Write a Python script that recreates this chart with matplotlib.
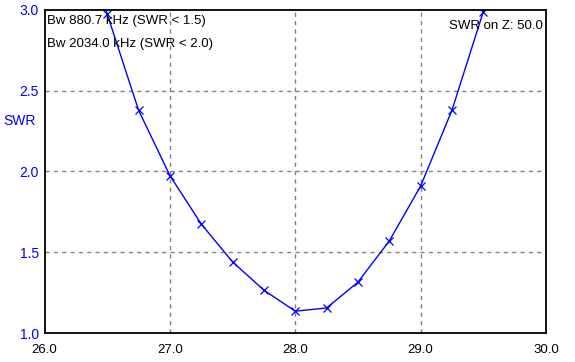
import matplotlib
matplotlib.use("Agg")
import matplotlib.pyplot as plt

# frequency (MHz) and SWR
freq = [26.25, 26.5, 26.75, 27.0, 27.25, 27.5, 27.75, 28.0, 28.25, 28.5, 28.75, 29.0, 29.25, 29.5, 29.75]
swr = [3.65, 2.975, 2.38, 1.975, 1.675, 1.44, 1.265, 1.135, 1.155, 1.315, 1.57, 1.91, 2.38, 2.99, 3.75]

xticks = [26.0, 27.0, 28.0, 29.0, 30.0]
yticks = [1.0, 1.5, 2.0, 2.5, 3.0]

plt.rcParams['font.family'] = ['Liberation Sans', 'DejaVu Sans']
plt.rcParams['font.size'] = 9.5

fig = plt.figure(figsize=(5.75, 3.62), dpi=100)
ax = fig.add_axes([0.0774, 0.0801, 0.8722, 0.8923])

ax.plot(freq, swr, color='#0000ff', lw=1.0, marker='x', ms=5.5, mew=0.9)

ax.set_xlim(26.0, 30.0)
ax.set_ylim(1.0, 3.0)
ax.set_xticks(xticks)
ax.set_yticks(yticks)
ax.set_xticklabels([f"{v:.1f}" for v in xticks])
ax.set_yticklabels([f"{v:.1f}" for v in yticks], color='#0000ff', fontsize=10)
ax.tick_params(length=0)
ax.tick_params(axis='x', pad=8)
ax.tick_params(axis='y', pad=4)

for v in xticks[1:-1]:
    ax.axvline(v, color='#808080', lw=1.0, ls=(0, (3, 3)), zorder=0)
for v in yticks[1:-1]:
    ax.axhline(v, color='#808080', lw=1.0, ls=(0, (3, 3)), zorder=0)

for s in ax.spines.values():
    s.set_linewidth(1.3)

ax.text(0.005, 0.965, "Bw 880.7 kHz (SWR < 1.5)", transform=ax.transAxes,
        ha='left', va='center')
ax.text(0.005, 0.895, "Bw 2034.0 kHz (SWR < 2.0)", transform=ax.transAxes,
        ha='left', va='center')
ax.text(0.994, 0.95, "SWR on Z: 50.0", transform=ax.transAxes,
        ha='right', va='center')

fig.text(20 / 575, 1 - 121 / 362, "SWR", color='#0000ff', ha='center', va='center',
         fontsize=10)

fig.savefig("out.png", dpi=100)
